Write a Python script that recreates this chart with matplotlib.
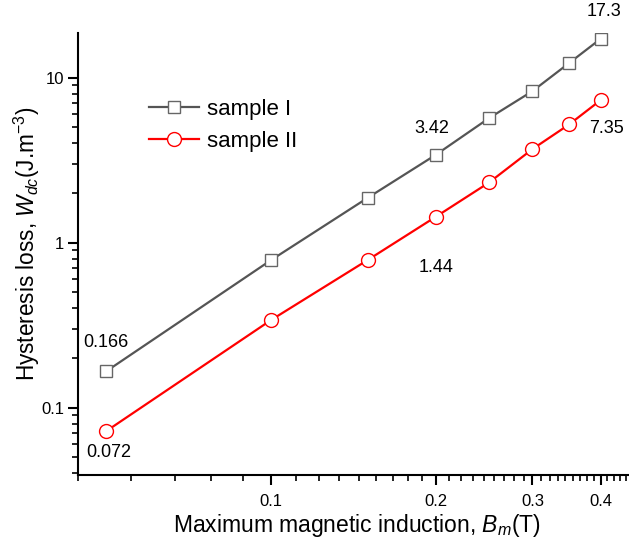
import numpy as np
import matplotlib
matplotlib.use("Agg")
import matplotlib.pyplot as plt
from matplotlib.ticker import FixedLocator, NullFormatter, FixedFormatter

plt.rcParams['font.family'] = ['Liberation Sans', 'DejaVu Sans']
plt.rcParams['mathtext.fontset'] = 'custom'
plt.rcParams['mathtext.rm'] = 'Liberation Sans'
plt.rcParams['mathtext.it'] = 'Liberation Sans:italic'

B = [0.05, 0.1, 0.15, 0.2, 0.25, 0.3, 0.35, 0.4]
sample1 = [0.166, 0.785, 1.87, 3.42, 5.70, 8.31, 12.3, 17.3]
sample2 = [0.072, 0.340, 0.785, 1.44, 2.32, 3.70, 5.22, 7.35]
x_major = [0.1, 0.2, 0.3, 0.4]
x_major_labels = ["0.1", "0.2", "0.3", "0.4"]
y_major = [0.1, 1, 10]
y_major_labels = ["0.1", "1", "10"]

fig = plt.figure(figsize=(6.29, 5.42), dpi=100)
ax = fig.add_axes([78/629, 1-475/542, (629-78)/629, (475-33)/542])

ax.plot(B, sample1, '-s', color='#555555', lw=1.6, ms=9, mfc='white',
        mec='#666666', mew=1.0, label='sample I')
ax.plot(B, sample2, '-o', color='#ff0000', lw=1.6, ms=10, mfc='white',
        mec='#ff0000', mew=1.0, label='sample II')

ax.set_xscale('log')
ax.set_yscale('log')
ax.set_xlim(4/90, 0.45)
ax.set_ylim(0.0391, 18.7)

ax.xaxis.set_major_locator(FixedLocator(x_major))
ax.xaxis.set_major_formatter(FixedFormatter(x_major_labels))
ax.xaxis.set_minor_locator(FixedLocator([k/90 for k in range(4, 41)]))
ax.xaxis.set_minor_formatter(NullFormatter())
ax.yaxis.set_major_locator(FixedLocator(y_major))
ax.yaxis.set_major_formatter(FixedFormatter(y_major_labels))
ymin = [m*10.0**e for e in (-2, -1, 0, 1) for m in range(2, 10)]
ax.yaxis.set_minor_locator(FixedLocator(ymin))
ax.yaxis.set_minor_formatter(NullFormatter())

for s in ('top', 'right'):
    ax.spines[s].set_visible(False)
for s in ('left', 'bottom'):
    ax.spines[s].set_linewidth(1.5)
ax.tick_params(which='major', direction='out', length=7, width=1.5, labelsize=12)
ax.tick_params(which='minor', direction='out', length=4, width=1.2)
ax.tick_params(axis='x', which='major', pad=7)
ax.tick_params(axis='y', which='major', pad=3)

ax.set_xlabel(r'Maximum magnetic induction, $\it{B}_{m}$(T)', fontsize=16.5, va='center')
ax.set_ylabel(r'Hysteresis loss, $\it{W}_{dc}$(J.m$^{-3}$)', fontsize=16.3, va='center')
ax.xaxis.set_label_coords(0.507, -0.114)
ax.yaxis.set_label_coords(-0.092, 0.524)

ann = dict(fontsize=13, ha='center', va='center')
ax.annotate('0.166', (B[0], sample1[0]), xytext=(0, 29), textcoords='offset pixels', **ann)
ax.annotate('0.072', (B[0], sample2[0]), xytext=(3, -21), textcoords='offset pixels', **ann)
ax.annotate('3.42', (B[3], sample1[3]), xytext=(-4, 26), textcoords='offset pixels', **ann)
ax.annotate('1.44', (B[3], sample2[3]), xytext=(0, -51), textcoords='offset pixels', **ann)
ax.annotate('17.3', (B[7], sample1[7]), xytext=(3, 27), textcoords='offset pixels', **ann)
ax.annotate('7.35', (B[7], sample2[7]), xytext=(6, -29), textcoords='offset pixels', **ann)

leg = ax.legend(loc='upper left', bbox_to_anchor=(0.093, 0.897), frameon=False,
                fontsize=16, handlelength=2.25, handletextpad=0.36, labelspacing=0.5)

fig.savefig('out.png', dpi=100)
